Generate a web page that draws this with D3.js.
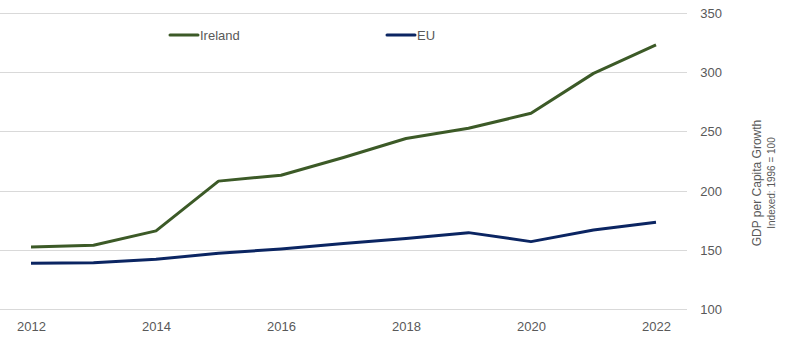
<!DOCTYPE html>
<html><head><meta charset="utf-8">
<script src="https://cdn.jsdelivr.net/npm/d3@7"></script>
<style>body{margin:0;background:#fff}svg{display:block}</style>
</head><body><svg id="c" width="789" height="343"></svg>
<script>
const years = [2012,2013,2014,2015,2016,2017,2018,2019,2020,2021,2022];
const ireland = [152.4,153.8,166,208,213,228,244,252.6,265.3,299,323];
const eu = [138.6,139,142,147,150.7,155.3,159.6,164.5,156.9,166.7,173.2];
const yTicks = [100,150,200,250,300,350];
const xTicks = [2012,2014,2016,2018,2020,2022];
const seriesNames = ["Ireland","EU"];
const colors = ["#3C5A27","#0B2562"];

const svg = d3.select("#c");
const font = "'Liberation Sans', Arial, sans-serif";
const x = d3.scaleLinear().domain([2012,2022]).range([31,656]);
const y = d3.scaleLinear().domain([100,350]).range([309,13]);

// gridlines
svg.append("g").selectAll("line").data(yTicks).join("line")
  .attr("x1",0).attr("x2",687).attr("y1",d=>Math.round(y(d))+0.5).attr("y2",d=>Math.round(y(d))+0.5)
  .attr("stroke","#d9d9d9").attr("stroke-width",1);

// y axis labels (right)
const ya = svg.append("g").attr("transform","translate(722,0)")
  .call(d3.axisRight(y).tickValues(yTicks).tickSize(0).tickPadding(0));
ya.select(".domain").remove();
ya.selectAll("text").attr("text-anchor","end").attr("x",0).attr("dy","0.35em")
  .style("font-family",font).style("font-size","13px").attr("fill","#595959");

// x axis labels
const xa = svg.append("g").attr("transform","translate(0,322)")
  .call(d3.axisBottom(x).tickValues(xTicks).tickFormat(d3.format("d")).tickSize(0).tickPadding(0));
xa.select(".domain").remove();
xa.selectAll("text").attr("dy","0.71em")
  .style("font-family",font).style("font-size","13px").attr("fill","#595959");

// lines
const line = d3.line().x((d,i)=>x(years[i])).y(d=>y(d));
[ireland,eu].forEach((s,k)=>{
  svg.append("path").datum(s).attr("d",line).attr("fill","none")
    .attr("stroke",colors[k]).attr("stroke-width",3).attr("stroke-linejoin","round");
});

// legend
const legX = [170,387];
seriesNames.forEach((n,k)=>{
  const g = svg.append("g").attr("transform",`translate(${legX[k]},35)`);
  g.append("line").attr("x1",0).attr("x2",28).attr("y1",0).attr("y2",0)
    .attr("stroke",colors[k]).attr("stroke-width",3).attr("stroke-linecap","round");
  g.append("text").attr("x",30).attr("y",0).attr("dy","0.35em").text(n)
    .style("font-family",font).style("font-size","13px").attr("fill","#595959");
});

// axis title
const t = svg.append("g").attr("transform","translate(757,183) rotate(-90)");
t.append("text").attr("text-anchor","middle").attr("dy","0.35em").text("GDP per Capita Growth")
  .style("font-family",font).style("font-size","12px").attr("fill","#595959");
t.append("text").attr("text-anchor","middle").attr("y",14).attr("dy","0.35em").text("Indexed: 1996 = 100")
  .style("font-family",font).style("font-size","10px").attr("fill","#595959");
</script></body></html>
